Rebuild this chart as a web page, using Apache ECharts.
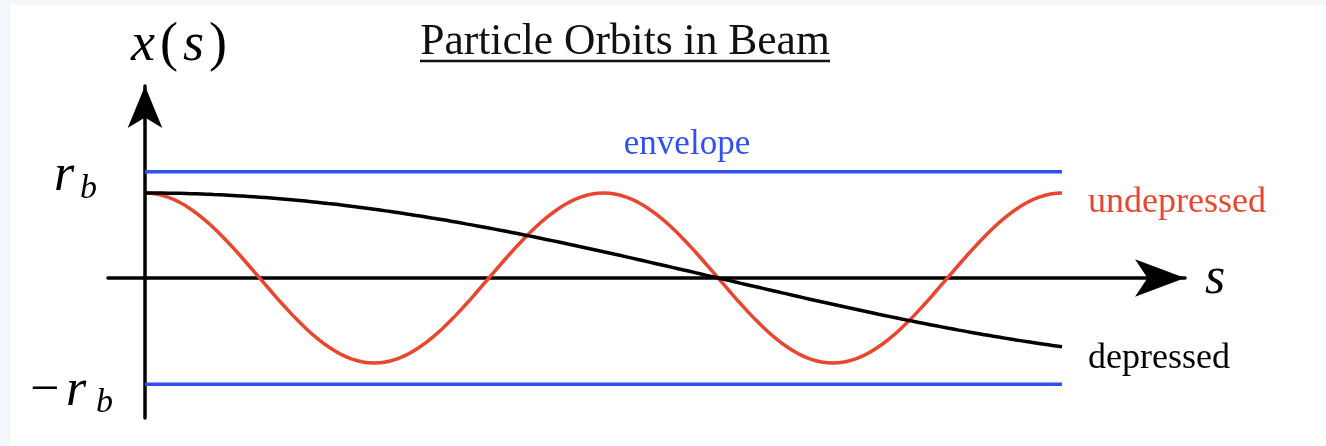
<!DOCTYPE html>
<html>
<head>
<meta charset="utf-8">
<title>Particle Orbits in Beam</title>
<script src="https://cdn.jsdelivr.net/npm/echarts@6/dist/echarts.min.js"></script>
<style>
  html, body { margin: 0; padding: 0; background: #ffffff; }
  #chart { width: 1326px; height: 446px; }
</style>
</head>
<body>
<div id="chart"></div>
<script>
// Position along the beam line s (in units of one undepressed oscillation period)
const sPositions = [
  0, 0.025, 0.05, 0.075, 0.1, 0.125, 0.15, 0.175, 0.2, 0.225,
  0.25, 0.275, 0.3, 0.325, 0.35, 0.375, 0.4, 0.425, 0.45, 0.475,
  0.5, 0.525, 0.55, 0.575, 0.6, 0.625, 0.65, 0.675, 0.7, 0.725,
  0.75, 0.775, 0.8, 0.825, 0.85, 0.875, 0.9, 0.925, 0.95, 0.975,
  1, 1.025, 1.05, 1.075, 1.1, 1.125, 1.15, 1.175, 1.2, 1.225,
  1.25, 1.275, 1.3, 1.325, 1.35, 1.375, 1.4, 1.425, 1.45, 1.475,
  1.5, 1.525, 1.55, 1.575, 1.6, 1.625, 1.65, 1.675, 1.7, 1.725,
  1.75, 1.775, 1.8, 1.825, 1.85, 1.875, 1.9, 1.925, 1.95, 1.975, 2
];

// Undepressed orbit x(s) / r_b
const undepressed = [
  1, 0.988, 0.951, 0.891, 0.809, 0.707, 0.588, 0.454, 0.309, 0.156,
  0, -0.156, -0.309, -0.454, -0.588, -0.707, -0.809, -0.891, -0.951, -0.988,
  -1, -0.988, -0.951, -0.891, -0.809, -0.707, -0.588, -0.454, -0.309, -0.156,
  0, 0.156, 0.309, 0.454, 0.588, 0.707, 0.809, 0.891, 0.951, 0.988,
  1, 0.988, 0.951, 0.891, 0.809, 0.707, 0.588, 0.454, 0.309, 0.156,
  0, -0.156, -0.309, -0.454, -0.588, -0.707, -0.809, -0.891, -0.951, -0.988,
  -1, -0.988, -0.951, -0.891, -0.809, -0.707, -0.588, -0.454, -0.309, -0.156,
  0, 0.156, 0.309, 0.454, 0.588, 0.707, 0.809, 0.891, 0.951, 0.988, 1
];

// Space-charge depressed orbit x(s) / r_b
const depressed = [
  1, 0.9995, 0.998, 0.996, 0.992, 0.988, 0.982, 0.976, 0.969, 0.960,
  0.951, 0.941, 0.930, 0.918, 0.905, 0.891, 0.876, 0.861, 0.844, 0.827,
  0.809, 0.790, 0.771, 0.750, 0.729, 0.707, 0.685, 0.661, 0.637, 0.613,
  0.588, 0.562, 0.536, 0.509, 0.482, 0.454, 0.426, 0.397, 0.368, 0.339,
  0.309, 0.279, 0.249, 0.218, 0.187, 0.156, 0.125, 0.094, 0.063, 0.031,
  0, -0.031, -0.063, -0.094, -0.125, -0.156, -0.187, -0.218, -0.249, -0.279,
  -0.309, -0.339, -0.368, -0.397, -0.426, -0.454, -0.482, -0.509, -0.536, -0.562,
  -0.588, -0.613, -0.637, -0.661, -0.685, -0.707, -0.729, -0.750, -0.771, -0.790, -0.809
];

// Beam envelope at ±r_b
const envelopeS = [0, 2];
const envelopeUpper = [1.25, 1.25];
const envelopeLower = [-1.25, -1.25];

const BLUE = '#2f50f2';
const RED = '#e9462f';
const SERIF = '"Liberation Serif", "DejaVu Serif", serif';

const pairs = (xs, ys) => xs.map((x, i) => [x, ys[i]]);

const chart = echarts.init(document.getElementById('chart'), null, { renderer: 'canvas' });

const lineBase = { type: 'line', symbol: 'none', silent: true, animation: false };

chart.setOption({
  backgroundColor: '#ffffff',
  animation: false,
  grid: { left: 108, right: 141, top: 86, bottom: 28, containLabel: false },
  xAxis: {
    type: 'value',
    min: -0.0807,
    max: 2.2682,
    axisLine: {
      onZero: true,
      symbol: ['none', 'arrow'],
      symbolSize: [28, 50],
      lineStyle: { color: '#000', width: 3.5 }
    },
    axisTick: { show: false },
    axisLabel: { show: false },
    splitLine: { show: false }
  },
  yAxis: {
    type: 'value',
    min: -1.647,
    max: 2.259,
    axisLine: {
      onZero: true,
      symbol: ['none', 'arrow'],
      symbolSize: [26, 42],
      lineStyle: { color: '#000', width: 3.5 }
    },
    axisTick: { show: false },
    axisLabel: { show: false },
    splitLine: { show: false }
  },
  series: [
    Object.assign({}, lineBase, {
      name: 'envelope-upper',
      data: pairs(envelopeS, envelopeUpper),
      lineStyle: { color: BLUE, width: 3.5 }
    }),
    Object.assign({}, lineBase, {
      name: 'envelope-lower',
      data: pairs(envelopeS, envelopeLower),
      lineStyle: { color: BLUE, width: 3.5 }
    }),
    Object.assign({}, lineBase, {
      name: 'undepressed',
      data: pairs(sPositions, undepressed),
      smooth: true,
      lineStyle: { color: RED, width: 3.5 },
      endLabel: {
        show: true,
        formatter: 'undepressed',
        color: RED,
        fontFamily: SERIF,
        fontSize: 36,
        distance: 0,
        offset: [26, 10]
      }
    }),
    Object.assign({}, lineBase, {
      name: 'depressed',
      data: pairs(sPositions, depressed),
      smooth: true,
      lineStyle: { color: '#000', width: 3.5 },
      endLabel: {
        show: true,
        formatter: 'depressed',
        color: '#000',
        fontFamily: SERIF,
        fontSize: 36,
        distance: 0,
        offset: [26, 12]
      }
    })
  ],
  graphic: [
    // page frame strips
    { type: 'rect', shape: { x: 0, y: 0, width: 1326, height: 5 }, style: { fill: '#f3f7fb' }, z: -10, silent: true },
    { type: 'rect', shape: { x: 0, y: 0, width: 10, height: 446 }, style: { fill: '#f3f7fb' }, z: -10, silent: true },
    // title with underline
    {
      type: 'text', x: 625, y: 43, silent: true,
      style: { text: 'Particle Orbits in Beam', fill: '#111', font: '43.5px ' + SERIF, align: 'center', verticalAlign: 'middle' }
    },
    { type: 'line', shape: { x1: 420, y1: 61, x2: 830, y2: 61 }, style: { stroke: '#111', lineWidth: 2.5 }, silent: true },
    // vertical axis name x(s)
    {
      type: 'text', x: 128, y: 46, silent: true,
      style: {
        text: '{i|x}{u|(}{i|s}{u|)}',
        verticalAlign: 'middle', align: 'left',
        rich: {
          i: { fontFamily: SERIF, fontStyle: 'italic', fontSize: 54, fill: '#000', padding: [0, 3, 0, 3] },
          u: { fontFamily: SERIF, fontSize: 54, fill: '#000', padding: [0, 2, 0, 2] }
        }
      }
    },
    // horizontal axis name s
    {
      type: 'text', x: 1205, y: 279, silent: true,
      style: { text: 's', fill: '#000', font: 'italic 52px ' + SERIF, align: 'left', verticalAlign: 'middle' }
    },
    // r_b
    {
      type: 'text', x: 54, y: 176, silent: true,
      style: { text: 'r', fill: '#000', font: 'italic 52px ' + SERIF, align: 'left', verticalAlign: 'middle' }
    },
    {
      type: 'text', x: 80, y: 189, silent: true,
      style: { text: 'b', fill: '#000', font: 'italic 34px ' + SERIF, align: 'left', verticalAlign: 'middle' }
    },
    // -r_b
    {
      type: 'text', x: 30, y: 391, silent: true,
      style: { text: '\u2212', fill: '#000', font: '52px ' + SERIF, align: 'left', verticalAlign: 'middle' }
    },
    {
      type: 'text', x: 66, y: 391, silent: true,
      style: { text: 'r', fill: '#000', font: 'italic 52px ' + SERIF, align: 'left', verticalAlign: 'middle' }
    },
    {
      type: 'text', x: 96, y: 403, silent: true,
      style: { text: 'b', fill: '#000', font: 'italic 34px ' + SERIF, align: 'left', verticalAlign: 'middle' }
    },
    // envelope label
    {
      type: 'text', x: 687, y: 145, silent: true,
      style: { text: 'envelope', fill: BLUE, font: '35px ' + SERIF, align: 'center', verticalAlign: 'middle' }
    }
  ]
});
</script>
</body>
</html>
